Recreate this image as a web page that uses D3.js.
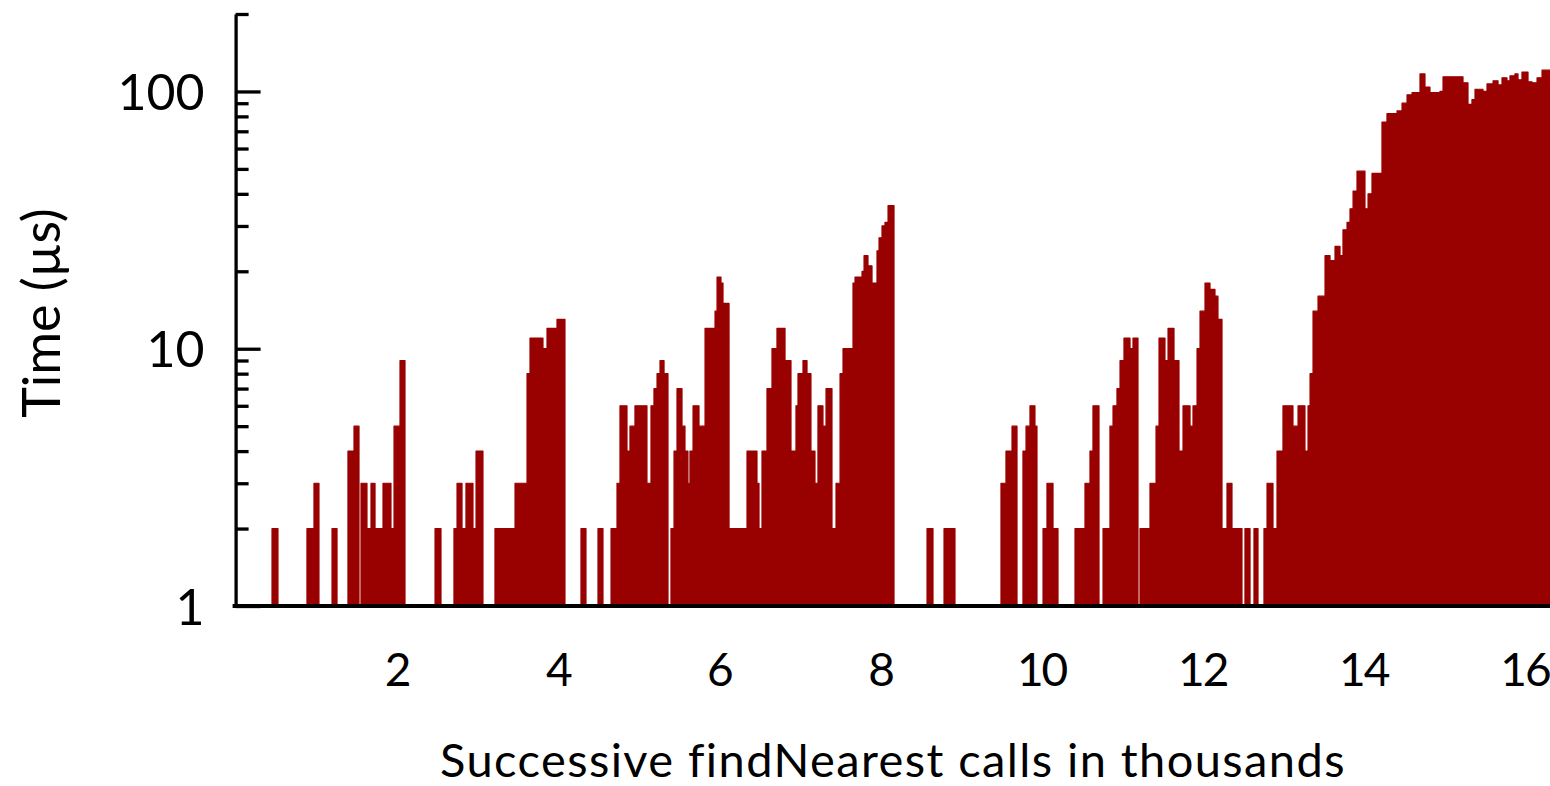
<!DOCTYPE html>
<html>
<head>
<meta charset="utf-8">
<script src="https://cdn.jsdelivr.net/npm/d3@7"></script>
<style>
  html, body { margin: 0; padding: 0; background: #fff; }
  svg { display: block; font-family: Lato, "Open Sans", sans-serif; }
</style>
</head>
<body>
<svg id="chart" width="1550" height="786"></svg>
<script>
// Step breakpoints: successive calls (thousands) and time (µs) held until next breakpoint
const callsK = [0,0.452,0.526,0.886,0.973,1.035,1.197,1.259,1.395,1.470,1.532,1.557,1.631,1.681,1.731,1.830,1.929,1.967,2.041,2.103,
  2.476,2.550,2.711,2.749,2.811,2.860,2.947,2.985,3.071,3.220,3.469,3.618,3.655,3.816,3.866,3.990,4.089,4.288,4.350,4.499,4.561,
  4.661,4.735,4.772,4.859,4.896,4.958,5.107,5.157,5.194,5.232,5.269,5.319,5.368,5.405,5.443,5.480,5.542,5.579,5.616,5.641,5.679,
  5.753,5.828,5.952,5.977,6.026,6.051,6.126,6.349,6.473,6.498,6.535,6.597,6.659,6.721,6.821,6.895,6.957,6.982,7.044,7.094,7.143,
  7.193,7.230,7.292,7.330,7.404,7.454,7.504,7.541,7.665,7.690,7.777,7.802,7.851,7.901,7.963,7.988,8.025,8.062,8.100,8.174,
  8.584,8.658,8.795,8.931,9.502,9.564,9.639,9.701,9.775,9.813,9.862,9.924,9.949,10.024,10.073,10.148,10.210,10.421,10.545,10.607,
  10.644,10.719,10.769,10.855,10.893,10.942,10.980,11.029,11.104,11.141,11.203,11.228,11.352,11.427,11.464,11.538,11.576,11.650,
  11.712,11.762,11.849,11.886,11.936,11.973,12.035,12.097,12.159,12.196,12.246,12.308,12.370,12.494,12.531,12.594,12.643,12.693,
  12.767,12.805,12.879,12.929,13.003,13.127,13.190,13.276,13.314,13.339,13.376,13.438,13.525,13.587,13.649,13.711,13.748,13.798,
  13.835,13.873,13.922,14.021,14.059,14.108,14.232,14.294,14.419,14.481,14.543,14.605,14.704,14.766,14.828,14.952,14.990,15.238,
  15.300,15.349,15.387,15.486,15.536,15.611,15.673,15.722,15.784,15.821,15.883,15.921,15.970,16.045,16.095,16.157,16.219,16.318];
const timeUs = [1,2,1,2,3,1,2,1,4,5,1,3,2,3,2,3,2,5,9,1,
  2,1,2,3,2,3,2,4,1,2,3,8,11,10,12,13,1,2,1,2,1,
  2,3,6,4,5,6,3,6,7,8,9,8,1,2,4,7,5,4,3,4,6,
  5,12,14,19,18,15,2,4,3,2,4,7,10,12,9,4,6,8,9,8,4,
  3,6,5,7,2,3,8,10,18,19,20,23,21,18,24,27,30,31,36,1,
  2,1,2,1,3,4,5,1,4,5,6,5,1,2,3,2,1,2,3,4,
  6,1,2,5,6,7,9,11,10,11,1,2,3,5,11,9,12,9,
  4,6,5,6,10,14,18,17,16,13,2,3,2,1,2,1,2,1,
  2,3,2,4,6,5,6,4,6,8,14,16,23,22,25,23,29,31,
  35,41,49,35,40,48,76,82,84,90,97,99,117,104,99,100,114,108,
  89,93,102,100,107,110,106,113,110,115,117,111,119,109,108,113,121,121];

const yMajor = [1, 10, 100];
const yMinor = [2,3,4,5,6,7,8,9,20,30,40,50,60,70,80,90,200];
const xTicks = [2, 4, 6, 8, 10, 12, 14, 16];
const xTitle = "Successive findNearest calls in thousands";
const yTitle = "Time (µs)";

const svg = d3.select("#chart");
const x = d3.scaleLinear().domain([0, 16.318]).range([235.6, 1550]);
const y = d3.scaleLog().domain([1, 200]).range([606, 14]);

const pts = callsK.map((c, i) => [c, timeUs[i]]);
const area = d3.area()
  .x(d => x(d[0]))
  .y0(y(1))
  .y1(d => y(d[1]))
  .curve(d3.curveStepAfter);

svg.append("path")
  .datum(pts)
  .attr("d", area)
  .attr("fill", "#990000")
  .attr("stroke", "#990000")
  .attr("stroke-width", 1.2)
  .attr("stroke-linejoin", "round");

// Y axis: minor ticks
const gMinor = svg.append("g").attr("transform", `translate(${x(0)},0)`)
  .call(d3.axisLeft(y).tickValues(yMinor).tickSize(-13).tickFormat(""));
gMinor.select(".domain").remove();
gMinor.selectAll("line").attr("stroke", "#000").attr("stroke-width", 3.3);

// Y axis: major ticks and labels
const gMajor = svg.append("g").attr("transform", `translate(${x(0)},0)`)
  .call(d3.axisLeft(y).tickValues(yMajor).tickSize(-25).tickSizeOuter(0).tickPadding(31).tickFormat(d3.format("d")));
gMajor.select(".domain").attr("stroke", "#000").attr("stroke-width", 3.3);
gMajor.selectAll("line").attr("stroke", "#000").attr("stroke-width", 3.3);
gMajor.selectAll("text").attr("font-size", 50).attr("font-family", "Lato, sans-serif").attr("fill", "#000").attr("dy", "0.36em");

// X axis
const gX = svg.append("g").attr("transform", `translate(0,${y(1)})`)
  .call(d3.axisBottom(x).tickValues(xTicks).tickSize(0).tickSizeOuter(0).tickPadding(47).tickFormat(d3.format("d")));
gX.select(".domain").attr("stroke", "#000").attr("stroke-width", 4)
  .attr("d", `M${x(0) - 3},0H1550`);
gX.selectAll("text").attr("font-size", 46).attr("letter-spacing", "-2px")
  .attr("font-family", "Lato, sans-serif").attr("fill", "#000");

// Titles
svg.append("text")
  .attr("x", 893).attr("y", 777)
  .attr("text-anchor", "middle")
  .attr("font-size", 47)
  .attr("letter-spacing", "1.4px")
  .attr("fill", "#000")
  .text(xTitle);

svg.append("text")
  .attr("transform", "translate(60,313) rotate(-90)")
  .attr("text-anchor", "middle")
  .attr("font-size", 52)
  .attr("fill", "#000")
  .text(yTitle);
</script>
</body>
</html>
